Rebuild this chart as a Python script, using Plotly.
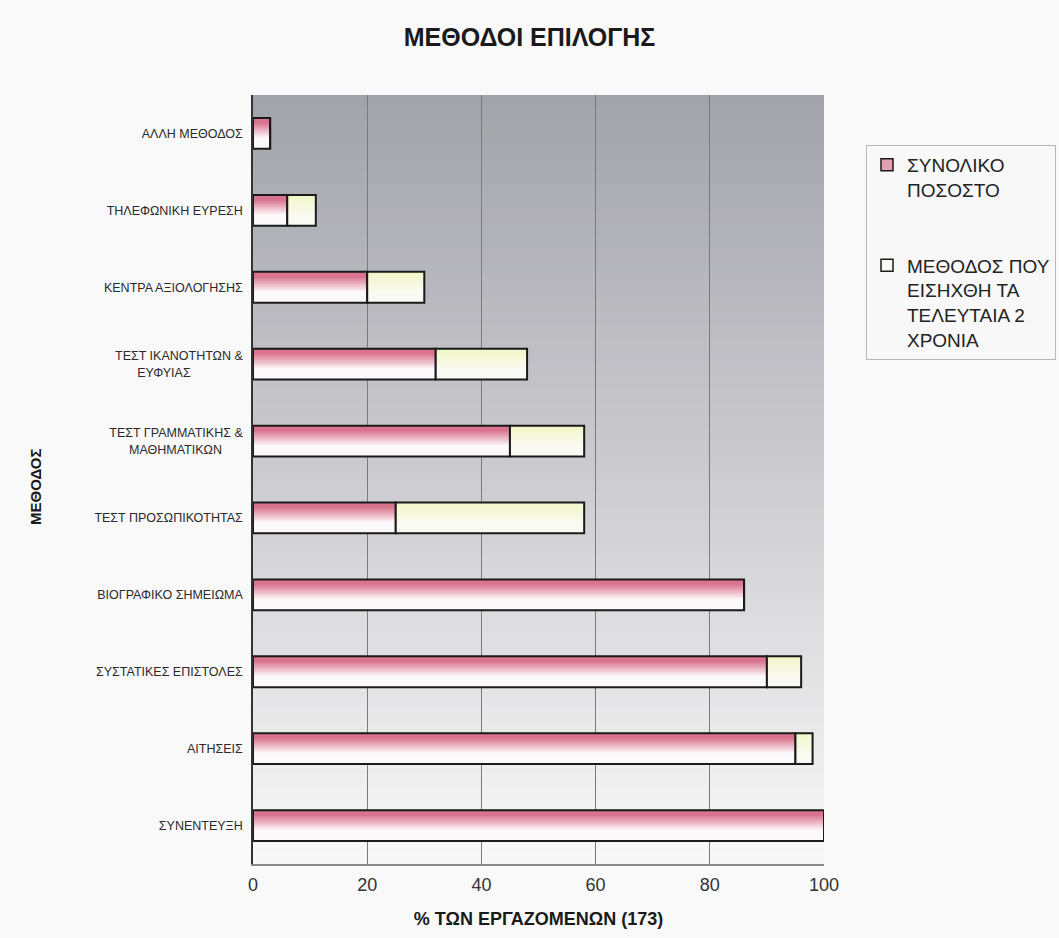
import plotly.graph_objects as go

# ---------------- data (bottom -> top) ----------------
CATEGORIES = [
    "ΣΥΝΕΝΤΕΥΞΗ",
    "ΑΙΤΗΣΕΙΣ",
    "ΣΥΣΤΑΤΙΚΕΣ ΕΠΙΣΤΟΛΕΣ",
    "ΒΙΟΓΡΑΦΙΚΟ ΣΗΜΕΙΩΜΑ",
    "ΤΕΣΤ ΠΡΟΣΩΠΙΚΟΤΗΤΑΣ",
    "ΤΕΣΤ ΓΡΑΜΜΑΤΙΚΗΣ & ΜΑΘΗΜΑΤΙΚΩΝ",
    "ΤΕΣΤ ΙΚΑΝΟΤΗΤΩΝ & ΕΥΦΥΙΑΣ",
    "ΚΕΝΤΡΑ ΑΞΙΟΛΟΓΗΣΗΣ",
    "ΤΗΛΕΦΩΝΙΚΗ ΕΥΡΕΣΗ",
    "ΑΛΛΗ ΜΕΘΟΔΟΣ",
]
NB = "\u00a0"
TICK_LABELS = [
    "ΣΥΝΕΝΤΕΥΞΗ",
    "ΑΙΤΗΣΕΙΣ",
    "ΣΥΣΤΑΤΙΚΕΣ ΕΠΙΣΤΟΛΕΣ",
    "ΒΙΟΓΡΑΦΙΚΟ ΣΗΜΕΙΩΜΑ",
    "ΤΕΣΤ ΠΡΟΣΩΠΙΚΟΤΗΤΑΣ",
    "ΤΕΣΤ ΓΡΑΜΜΑΤΙΚΗΣ &<br>ΜΑΘΗΜΑΤΙΚΩΝ" + NB * 6,
    "ΤΕΣΤ ΙΚΑΝΟΤΗΤΩΝ &<br>ΕΥΦΥΙΑΣ" + NB * 15,
    "ΚΕΝΤΡΑ ΑΞΙΟΛΟΓΗΣΗΣ",
    "ΤΗΛΕΦΩΝΙΚΗ ΕΥΡΕΣΗ",
    "ΑΛΛΗ ΜΕΘΟΔΟΣ",
]
TOTAL_PCT = [100, 95, 90, 86, 25, 45, 32, 20, 6, 3]          # ΣΥΝΟΛΙΚΟ ΠΟΣΟΣΤΟ
NEW_2YR_PCT = [0, 3, 6, 0, 33, 13, 16, 10, 5, 0]             # ΜΕΘΟΔΟΣ ΠΟΥ ΕΙΣΗΧΘΗ ΤΑ ΤΕΛΕΥΤΑΙΑ 2 ΧΡΟΝΙΑ (stacked)
X_TICKS = [0, 20, 40, 60, 80, 100]

SERIES_NAMES = ["ΣΥΝΟΛΙΚΟ<br>ΠΟΣΟΣΤΟ", "ΜΕΘΟΔΟΣ ΠΟΥ<br>ΕΙΣΗΧΘΗ ΤΑ<br>ΤΕΛΕΥΤΑΙΑ 2<br>ΧΡΟΝΙΑ"]

# ---------------- styling helpers ----------------
FONT = "Liberation Sans, Arial, sans-serif"
BAR_W = 0.4
N_STRIPS = 16


def lerp(c1, c2, t):
    t = max(0.0, min(1.0, t))
    return "rgb(%d,%d,%d)" % tuple(round(a + (b - a) * t) for a, b in zip(c1, c2))


PINK = (217, 115, 143)
PINK_WHITE = (252, 249, 250)
YEL = (242, 247, 204)
YEL_WHITE = (250, 250, 244)


def pink_at(t):  # t: 0 bottom .. 1 top
    if t < 0.35:
        return lerp(PINK_WHITE, PINK_WHITE, 0)
    return lerp(PINK_WHITE, PINK, (t - 0.35) / 0.5)


def yel_at(t):
    if t < 0.3:
        return lerp(YEL_WHITE, YEL_WHITE, 0)
    return lerp(YEL_WHITE, YEL, (t - 0.3) / 0.6)


fig = go.Figure()

bases_new = TOTAL_PCT  # second series stacked after the first


def add_gradient_series(values, base, color_fn):
    for i in range(N_STRIPS):
        frac = i / N_STRIPS
        fig.add_trace(go.Bar(
            orientation="h",
            y=CATEGORIES,
            x=values,
            base=base,
            width=BAR_W * (1 - frac),
            offset=-BAR_W / 2 + BAR_W * frac,
            marker=dict(color=color_fn((i + 0.5) / N_STRIPS), line=dict(width=0)),
            showlegend=False,
            hoverinfo="skip",
        ))
    # outline
    fig.add_trace(go.Bar(
        orientation="h",
        y=CATEGORIES,
        x=values,
        base=base,
        width=BAR_W,
        offset=-BAR_W / 2,
        marker=dict(color="rgba(0,0,0,0)", line=dict(color="#1a1a1a", width=2)),
        showlegend=False,
        hoverinfo="skip",
    ))


add_gradient_series(TOTAL_PCT, [0] * len(TOTAL_PCT), pink_at)
add_gradient_series(NEW_2YR_PCT, bases_new, yel_at)

# legend carriers
fig.add_trace(go.Bar(
    orientation="h", y=[CATEGORIES[0]], x=[None], name=SERIES_NAMES[0],
    legendgroup="a",
    marker=dict(color="rgb(230,160,180)", line=dict(color="#1a1a1a", width=1.5)),
))
fig.add_trace(go.Bar(
    orientation="h", y=[CATEGORIES[0]], x=[None], name=SERIES_NAMES[1],
    legendgroup="b",
    marker=dict(color="rgb(250,250,245)", line=dict(color="#1a1a1a", width=1.5)),
))

# background gradient (grey at top -> white at bottom)
TOP_BG = (162, 162, 170)
BOT_BG = (248, 248, 248)
N_BG = 60
shapes = []
for i in range(N_BG):
    f = i / N_BG
    shapes.append(dict(
        type="rect", xref="x domain", yref="y domain",
        x0=0, x1=1, y0=f, y1=1,
        fillcolor=lerp(BOT_BG, TOP_BG, (i + 0.5) / N_BG),
        line=dict(width=0), layer="below",
    ))

fig.update_layout(
    width=1059, height=938,
    margin=dict(l=253, r=235, t=95, b=74, autoexpand=False),
    paper_bgcolor="#f9f9f9",
    plot_bgcolor="rgba(0,0,0,0)",
    barmode="overlay",
    shapes=shapes,
    font=dict(family=FONT, color="#222"),
    title=dict(
        text="<b>ΜΕΘΟΔΟΙ ΕΠΙΛΟΓΗΣ</b>",
        x=0.5, xanchor="center", y=1 - 37 / 938, yanchor="middle",
        font=dict(size=25, family=FONT, color="#1a1a1a"),
    ),
    legend=dict(
        x=(866 - 253) / 571, xanchor="left",
        y=(864 - 145) / 769, yanchor="top",
        bgcolor="#f8f8f8", bordercolor="#b8b8b8", borderwidth=1,
        font=dict(size=19, family=FONT, color="#222"),
        tracegroupgap=48, valign="top",
        itemwidth=30,
    ),
    xaxis=dict(
        range=[0, 100], tickvals=X_TICKS, ticktext=[str(v) for v in X_TICKS],
        showgrid=True, gridcolor="#7a7a7a", gridwidth=1,
        zeroline=False,
        showline=True, linecolor="#8a8a8a", linewidth=1.5,
        ticks="outside", ticklen=4, tickcolor="rgba(0,0,0,0)",
        tickfont=dict(size=18, color="#333"),
        title=dict(text="<b>% ΤΩΝ ΕΡΓΑΖΟΜΕΝΩΝ (173)</b>", font=dict(size=18, color="#1a1a1a"), standoff=18),
        fixedrange=True,
    ),
    yaxis=dict(
        type="category",
        categoryorder="array", categoryarray=CATEGORIES,
        tickvals=CATEGORIES, ticktext=TICK_LABELS,
        range=[-0.5, len(CATEGORIES) - 0.5],
        showgrid=False, zeroline=False,
        showline=True, linecolor="#333", linewidth=1.5,
        ticks="outside", ticklen=6, tickcolor="rgba(0,0,0,0)",
        tickfont=dict(size=12.5, color="#2a2a2a"),
        fixedrange=True,
    ),
    annotations=[dict(
        text="<b>ΜΕΘΟΔΟΣ</b>", textangle=-90,
        xref="paper", yref="paper",
        x=(35 - 253) / 571, y=(864 - 487) / 769,
        xanchor="center", yanchor="middle", showarrow=False,
        font=dict(size=15, family=FONT, color="#1a1a1a"),
    )],
)

fig.write_html("out.html")
